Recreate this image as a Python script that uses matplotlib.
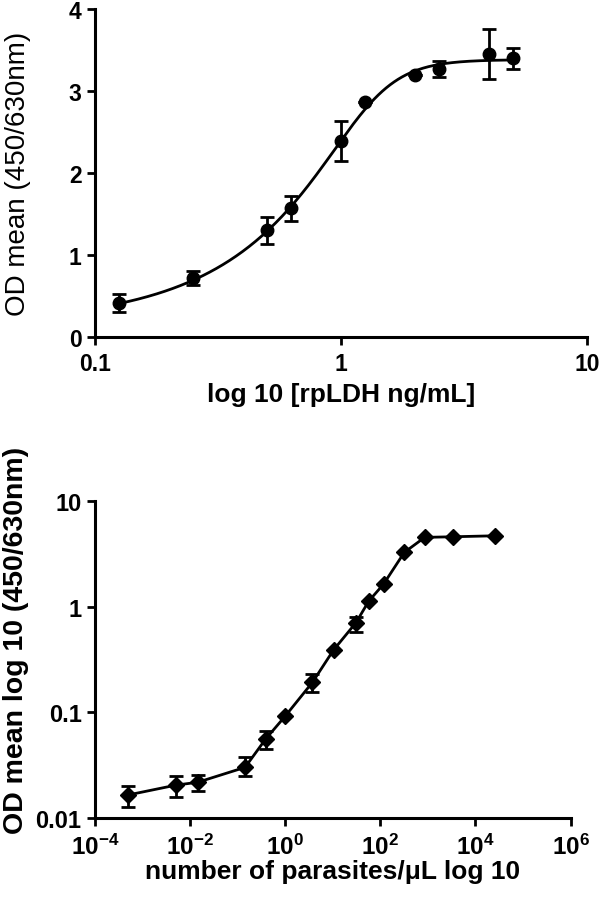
import numpy as np
import matplotlib.pyplot as plt
from matplotlib.ticker import FixedLocator, NullLocator, FixedFormatter

plt.rcParams['font.family'] = ['Liberation Sans', 'DejaVu Sans']
plt.rcParams['mathtext.fontset'] = 'custom'
plt.rcParams['mathtext.rm'] = 'Liberation Sans'
plt.rcParams['mathtext.bf'] = 'Liberation Sans:bold'

# top panel: rpLDH standard curve
conc = [0.125, 0.25, 0.5, 0.625, 1.0, 1.25, 2.0, 2.5, 4.0, 5.0]
od_mean = [0.42, 0.72, 1.30, 1.57, 2.39, 2.86, 3.19, 3.27, 3.45, 3.40]
od_err = [0.11, 0.08, 0.16, 0.155, 0.24, 0.0, 0.0, 0.10, 0.30, 0.13]
# sigmoidal fit: bottom, top, logEC50, hill, asymmetry
fit_params = [0.1557, 3.3817, 0.1151, 4.0547, 0.2682]

# bottom panel: parasite dilution series
parasites = [4.9e-4, 5.1e-3, 1.45e-2, 0.144, 0.39, 1.0, 3.76, 10.4, 31.0,
             57.0, 117.0, 320.0, 857.0, 3300.0, 25700.0]
od_par = [0.0165, 0.0205, 0.0218, 0.0302, 0.056, 0.092, 0.193, 0.39, 0.71,
          1.13, 1.64, 3.28, 4.55, 4.61, 4.71]
od_par_lo = [0.0037, 0.0048, 0.0039, 0.0054, 0.011, 0.0, 0.036, 0.0, 0.13,
             0.0, 0.0, 0.0, 0.0, 0.0, 0.0]
od_par_hi = [0.0037, 0.0043, 0.0037, 0.0074, 0.010, 0.0, 0.038, 0.0, 0.10,
             0.0, 0.0, 0.0, 0.0, 0.0, 0.0]
par_ticks = [1e-4, 1e-2, 1, 1e2, 1e4, 1e6]
par_ticklabels = ['$\\mathbf{10^{-4}}$', '$\\mathbf{10^{-2}}$', '$\\mathbf{10^{0}}$',
                  '$\\mathbf{10^{2}}$', '$\\mathbf{10^{4}}$', '$\\mathbf{10^{6}}$']


def five_pl(p, lx):
    bottom, top, logec, hill, s = p
    return bottom + (top - bottom) / (1 + 10 ** ((logec - lx) * hill)) ** s


def style_axes(ax):
    for s in ['top', 'right']:
        ax.spines[s].set_visible(False)
    for s in ['left', 'bottom']:
        ax.spines[s].set_linewidth(2.2)
    ax.tick_params(width=2, length=6, labelsize=16.5)
    ax.tick_params(axis='x', pad=5)
    for lab in ax.get_xticklabels() + ax.get_yticklabels():
        lab.set_fontweight('bold')


fig = plt.figure(figsize=(6, 9.04), dpi=100)

ax1 = fig.add_axes([0.158, 0.626, 0.82, 0.363])
xs = np.logspace(np.log10(conc[0]), np.log10(conc[-1]), 300)
ax1.plot(xs, five_pl(fit_params, np.log10(xs)), color='black', linewidth=2)
ax1.errorbar(conc, od_mean, yerr=od_err, fmt='o', color='black', ms=9,
             elinewidth=2, capsize=5, capthick=2)
ax1.set_xscale('log')
ax1.set_xlim(0.1, 10)
ax1.set_ylim(0, 4)
ax1.xaxis.set_major_locator(FixedLocator([0.1, 1, 10]))
ax1.xaxis.set_major_formatter(FixedFormatter(['0.1', '1', '10']))
ax1.xaxis.set_minor_locator(NullLocator())
ax1.set_yticks([0, 1, 2, 3, 4])
style_axes(ax1)
ax1.set_xlabel('log 10 [rpLDH ng/mL]', fontsize=19, fontweight='bold')
ax1.xaxis.set_label_coords(0.5, -0.137)
ax1.set_ylabel('OD mean (450/630nm)', fontsize=20)
ax1.yaxis.set_label_coords(-0.130, 0.5)

ax2 = fig.add_axes([0.158, 0.094, 0.793, 0.3504])
ax2.errorbar(parasites, od_par, yerr=[od_par_lo, od_par_hi], fmt='-D',
             color='black', ms=8, linewidth=2, elinewidth=2, capsize=5, capthick=2)
ax2.set_xscale('log')
ax2.set_yscale('log')
ax2.set_xlim(1e-4, 1e6)
ax2.set_ylim(0.01, 10)
ax2.xaxis.set_major_locator(FixedLocator(par_ticks))
ax2.xaxis.set_major_formatter(FixedFormatter(par_ticklabels))
ax2.xaxis.set_minor_locator(NullLocator())
ax2.yaxis.set_major_locator(FixedLocator([0.01, 0.1, 1, 10]))
ax2.yaxis.set_major_formatter(FixedFormatter(['0.01', '0.1', '1', '10']))
ax2.yaxis.set_minor_locator(NullLocator())
style_axes(ax2)
ax2.tick_params(axis='x', labelsize=17.5)
ax2.tick_params(axis='y', labelsize=17)
ax2.set_xlabel('number of parasites/μL log 10', fontsize=19, fontweight='bold')
ax2.xaxis.set_label_coords(0.5, -0.129)
ax2.set_ylabel('OD mean log 10 (450/630nm)', fontsize=20.5, fontweight='bold')
ax2.yaxis.set_label_coords(-0.138, 0.565)

fig.savefig('out.png', dpi=100)
